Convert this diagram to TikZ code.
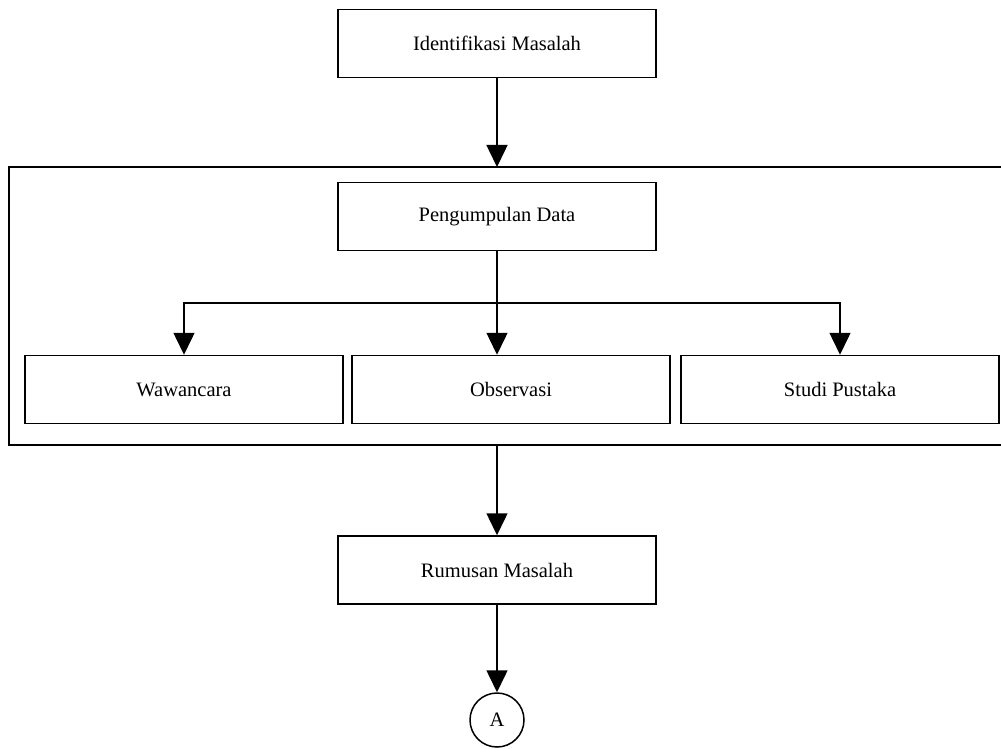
\documentclass[tikz,border=0pt]{standalone}
\usepackage{fontspec}
\setmainfont{Liberation Serif}
\usetikzlibrary{arrows.meta}
\begin{document}
\begin{tikzpicture}[x=1pt,y=-1pt,
  box/.style={draw, line width=1.5pt, rectangle, inner sep=0pt, minimum width=318pt, minimum height=68pt, font=\fontsize{20.5}{24}\selectfont},
  conn/.style={line width=1.5pt},
  arr/.style={conn, -{Triangle[width=21pt,length=22pt]}},
  term/.style={draw, line width=1.5pt, circle, inner sep=0pt, minimum size=54pt, font=\fontsize{20.5}{24}\selectfont}]
\useasboundingbox (0,0) rectangle (1001,749);
\clip (0,0) rectangle (1001,749);
\node[box] (id) at (497,43.5) {Identifikasi Masalah};
\node[box] (pd) at (497,216.5) {Pengumpulan Data};
\node[box] (waw) at (184,389.5) {Wawancara};
\node[box] (obs) at (511,389.5) {Observasi};
\node[box] (stu) at (840,389.5) {Studi Pustaka};
\node[box] (rm) at (497,570) {Rumusan Masalah};
\node[term] (A) at (497,720) {A};
% container
\draw[conn] (1010,167) -- (9,167) -- (9,445) -- (1010,445);
\coordinate (ct) at (497,167);
\coordinate (cb) at (497,445);
\coordinate (j) at (497,303);
\draw[arr] (id.south) -- (ct);
\draw[conn] (pd.south) -- (j);
\draw[arr] (j) -- (obs.north -| j);
\draw[arr] (j) -| (waw.north);
\draw[arr] (j) -| (stu.north);
\draw[arr] (cb) -- (rm.north);
\draw[arr] (rm.south) -- (A.north);
\end{tikzpicture}
\end{document}
